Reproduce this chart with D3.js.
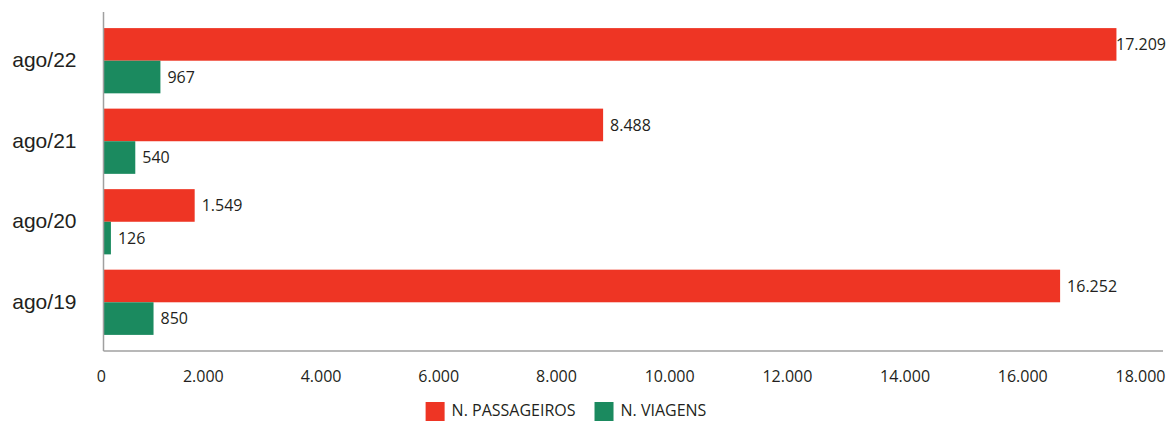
<!DOCTYPE html>
<html>
<head>
<meta charset="utf-8">
<script src="https://cdn.jsdelivr.net/npm/d3@7"></script>
<style>
  body { margin: 0; background: #fff; }
  svg { display: block; }
  text { font-family: "Open Sans", sans-serif; fill: #231f20; }
</style>
</head>
<body>
<svg id="chart" width="1168" height="421"></svg>
<script>
// --- Data ---

const months = ['ago/22', 'ago/21', 'ago/20', 'ago/19'];
const passageiros = [17209, 8488, 1549, 16252];
const viagens = [967, 540, 126, 850];
const seriesNames = ['N. PASSAGEIROS', 'N. VIAGENS'];
const seriesColors = ['#ee3524', '#1b8a5f'];
const xTicks = [0, 2000, 4000, 6000, 8000, 10000, 12000, 14000, 16000, 18000];

const W = 1168;
const svg = d3.select('#chart');

// pt-BR style thousands: 17.209
const fmt = d3.formatLocale({ decimal: ',', thousands: '.', grouping: [3], currency: ['', ''] }).format(',d');

// --- Scales ---

const x = d3.scaleLinear().domain([0, 18000]).range([103.5, 1163]);
const y = d3.scaleBand().domain(months).range([12, 351]).paddingInner(0.19).paddingOuter(0.2);
const ySub = d3.scaleBand().domain(seriesNames).range([0, y.bandwidth()]);
const color = d3.scaleOrdinal().domain(seriesNames).range(seriesColors);

const rows = months.map((m, i) => ({
  month: m,
  values: [
    { name: seriesNames[0], value: passageiros[i] },
    { name: seriesNames[1], value: viagens[i] }
  ]
}));

// --- Bars ---

const groups = svg.append('g').selectAll('g')
  .data(rows)
  .join('g')
  .attr('transform', d => `translate(0,${y(d.month)})`);

groups.selectAll('rect')
  .data(d => d.values)
  .join('rect')
  .attr('x', x(0))
  .attr('y', d => ySub(d.name))
  .attr('width', d => x(d.value) - x(0))
  .attr('height', ySub.bandwidth())
  .attr('fill', d => color(d.name));

// value labels, kept inside the picture when the bar is long
groups.selectAll('text')
  .data(d => d.values)
  .join('text')
  .attr('y', d => ySub(d.name) + ySub.bandwidth() / 2)
  .attr('dy', '0.36em')
  .style('font-size', '16px')
  .text(d => fmt(d.value))
  .attr('x', function (d) {
    const tw = this.getComputedTextLength();
    return Math.min(x(d.value) + 7, W - tw - 2);
  });

// --- Axes ---

const xAxis = svg.append('g')
  .attr('transform', `translate(0,${y.range()[1]})`)
  .call(d3.axisBottom(x).tickValues(xTicks).tickFormat(fmt).tickSize(0).tickPadding(20));
xAxis.select('.domain').remove();
xAxis.selectAll('text')
  .attr('text-anchor', 'end')
  .attr('dx', '2')
  .style('font-size', '16px')
  .style('font-family', '"Open Sans", sans-serif')
  .attr('fill', '#231f20');

const yAxis = svg.append('g')
  .attr('transform', `translate(${x(0)},0)`)
  .call(d3.axisLeft(y).tickSize(0).tickPadding(27));
yAxis.select('.domain').remove();
yAxis.selectAll('text')
  .style('font-size', '21px')
  .style('font-family', '"Liberation Sans", Arial, sans-serif')
  .attr('fill', '#231f20');

// axis lines
svg.append('line')
  .attr('x1', x(0)).attr('x2', x(0))
  .attr('y1', y.range()[0]).attr('y2', y.range()[1])
  .attr('stroke', '#a0a0a0').attr('stroke-width', 1.5);
svg.append('line')
  .attr('x1', x(0)).attr('x2', x.range()[1])
  .attr('y1', y.range()[1]).attr('y2', y.range()[1])
  .attr('stroke', '#a0a0a0').attr('stroke-width', 1.5);

// --- Legend ---

const legend = svg.append('g');
const items = legend.selectAll('g')
  .data(seriesNames)
  .join('g');

items.append('rect')
  .attr('y', 402)
  .attr('width', 19)
  .attr('height', 19)
  .attr('fill', d => color(d));

items.append('text')
  .attr('x', 26)
  .attr('y', 416)
  .style('font-size', '16px')
  .text(d => d);

let offset = 0;
items.each(function () {
  d3.select(this).attr('transform', `translate(${offset},0)`);
  offset += 26 + d3.select(this).select('text').node().getComputedTextLength() + 19;
});
const legendWidth = offset - 19;
legend.attr('transform', `translate(${566 - legendWidth / 2},0)`);
</script>
</body>
</html>
